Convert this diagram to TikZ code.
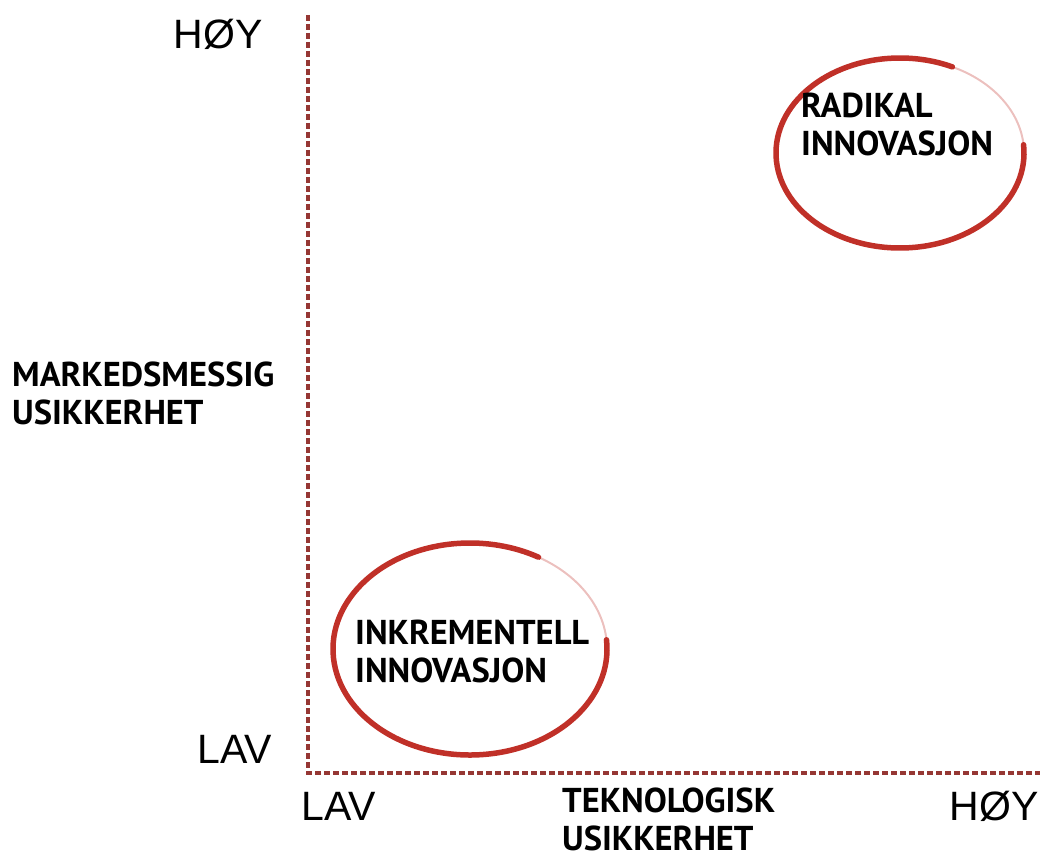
\documentclass[tikz,border=0pt]{standalone}
\usepackage{fontspec}
\setmainfont{Liberation Sans}
\newfontfamily\capsfont{PT Sans}
\usepackage{tikz}
\usetikzlibrary{positioning}
\definecolor{axiscolor}{RGB}{150,55,52}
\definecolor{ringcolor}{RGB}{192,48,40}

\begin{document}
\begin{tikzpicture}[x=1pt, y=-1pt,
    every node/.style={inner sep=0pt, text=black},
    axis/.style={draw=axiscolor, line width=3.5pt, dash pattern=on 6pt off 3pt},
    ring/.style={draw=ringcolor, line width=5.5pt, line cap=round},
    ringfade/.style={draw=ringcolor, line width=2pt, opacity=0.3},
    level/.style={font=\fontsize{41}{46}\selectfont},
    caption/.style={font=\capsfont\bfseries\fontsize{34.5}{38}\selectfont, align=left}
]
\useasboundingbox (0,0) rectangle (1042,861);

% --- Aksene ---
\coordinate (origo) at (308,773);
\coordinate (ytopp) at (308,15);
\coordinate (xende) at (1040,773);
\draw[axis] (ytopp) -- (origo) -- (xende);

% --- Nivaa paa aksene ---
\node[level] (yhoy) at (218,34) {HØY};
\node[level] (ylav) at (235,749) {LAV};
\node[level] (xlav) at (339,806) {LAV};
\node[level] (xhoy) at (994,806) {HØY};

% --- Aksetitler ---
\node[caption, anchor=north west] (ytittel) at (12,362) {MARKEDSMESSIG\\USIKKERHET};
\node[caption, anchor=north west] (xtittel) at (562,788) {TEKNOLOGISK\\USIKKERHET};

% --- Radikal innovasjon ---
\coordinate (radsentrum) at (900,153);
\draw[ring] (radsentrum) ++(-5:124 and 95) arc[start angle=-5, end angle=295, x radius=124, y radius=95];
\draw[ringfade] (radsentrum) ++(-65:124 and 95) arc[start angle=-65, end angle=-5, x radius=124, y radius=95];
\node[caption, anchor=north west] (radikal) at (801,93) {RADIKAL\\INNOVASJON};

% --- Inkrementell innovasjon ---
\coordinate (inksentrum) at (470,649);
\draw[ring] (inksentrum) ++(-5:137 and 106) arc[start angle=-5, end angle=300, x radius=137, y radius=106];
\draw[ringfade] (inksentrum) ++(-60:137 and 106) arc[start angle=-60, end angle=-5, x radius=137, y radius=106];
\node[caption, anchor=north west] (inkrementell) at (355,620) {INKREMENTELL\\INNOVASJON};
\end{tikzpicture}
\end{document}
